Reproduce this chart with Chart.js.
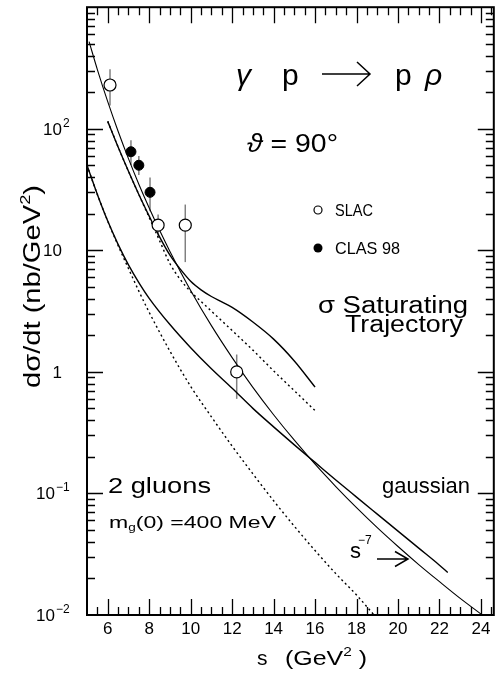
<!DOCTYPE html>
<html>
<head>
<meta charset="utf-8">
<script src="https://cdn.jsdelivr.net/npm/chart.js@4.4.1/dist/chart.umd.min.js"></script>
<style>
  html, body { margin: 0; padding: 0; background: #fff; }
  canvas { display: block; }
</style>
</head>
<body>
<canvas id="chart" width="501" height="676"></canvas>
<script>
// data
const slacS  = [6.11, 8.43, 9.74, 12.22];
const slacY  = [229, 16.1, 16.1, 1.0];
const slacLo = [155, 12.8, 8.0, 0.60];
const slacHi = [308, 19.7, 23.8, 1.39];

const clasS  = [7.12, 7.50, 8.04];
const clasY  = [64.7, 50.1, 30.0];
const clasLo = [50.3, 41.7, 21.0];
const clasHi = [80.5, 59.6, 39.7];

// steep s^-7 like curve
const powS = [5.1, 5.5, 6, 6.5, 7, 7.5, 8, 8.5, 9, 10, 11, 12, 13, 14, 15, 16, 17, 18, 19, 20, 21, 22, 23, 24, 24.4];
const powY = [521, 307, 167, 95.5, 56.8, 35.0, 22.3, 14.6, 9.8, 4.68, 2.40, 1.31, 0.746, 0.444, 0.274, 0.174, 0.114, 0.0764, 0.0523, 0.0366, 0.0260, 0.0188, 0.0137, 0.0102, 0.0091];

// saturating trajectory, solid and dotted
const satS = [6, 6.5, 7, 7.5, 8, 8.5, 9, 9.5, 10, 10.5, 11, 11.5, 12, 13, 14, 15, 16];
const satY = [115, 70.8, 44.7, 28.8, 19.1, 12.9, 9.12, 7.0, 5.56, 4.73, 4.17, 3.76, 3.39, 2.57, 1.86, 1.23, 0.75];
const satDotS = [6, 6.5, 7, 7.5, 8, 8.5, 9, 9.5, 10, 10.5, 11, 12, 13, 14, 15, 16];
const satDotY = [115, 70.8, 44.7, 28.8, 18.6, 12.0, 7.76, 5.75, 4.57, 3.80, 3.16, 2.19, 1.51, 1.02, 0.70, 0.48];

// 2 gluons, solid and dotted
const gluS = [5, 5.5, 6, 6.5, 7, 7.5, 8, 9, 10, 11, 12, 13, 14, 15, 16, 17, 18, 19, 20, 21, 22, 22.4];
const gluY = [50.1, 28.8, 17.4, 11.2, 7.59, 5.43, 4.03, 2.45, 1.58, 1.06, 0.733, 0.501, 0.353, 0.251, 0.180, 0.129, 0.0933, 0.0676, 0.0490, 0.0355, 0.0257, 0.0224];
const gluDotS = [5, 5.5, 6, 6.5, 7, 7.5, 8, 9, 10, 11, 12, 13, 14, 15, 16, 17, 18, 18.8, 19];
const gluDotY = [50.1, 28.8, 17.4, 10.96, 7.08, 4.62, 3.09, 1.48, 0.759, 0.427, 0.245, 0.145, 0.0871, 0.0537, 0.0339, 0.0219, 0.0146, 0.0102, 0.0093];

// axis labels
const xTicks = [6, 8, 10, 12, 14, 16, 18, 20, 22, 24];
const yTicks = [0.01, 0.1, 1, 10, 100];
const yBase  = ['10', '10', '1', '10', '10'];
const yExp   = ['\u22122', '\u22121', '', '', '2'];

const FAM = '"Liberation Sans", "DejaVu Sans", Arial, sans-serif';
const pts = (xs, ys) => xs.map((x, i) => ({ x: x, y: ys[i] }));

const curve = (xs, ys, w, dash) => ({
    data: pts(xs, ys),
    showLine: true,
    borderColor: '#000',
    borderWidth: w,
    borderDash: dash || [],
    pointRadius: 0,
    cubicInterpolationMode: 'monotone',
    clip: 0,
    order: 1
});

// draw a run of text pieces [text, size, dy, style], optionally squeezed to width
function rich(ctx, parts, x, y, width) {
    let total = 0;
    const ws = parts.map(p => {
        ctx.font = (p[3] || '') + ' ' + p[1] + 'px ' + FAM;
        const w = ctx.measureText(p[0]).width;
        total += w;
        return w;
    });
    const k = width ? width / total : 1;
    ctx.save();
    ctx.translate(x, y);
    ctx.scale(k, 1);
    ctx.textAlign = 'left';
    ctx.textBaseline = 'alphabetic';
    let cx = 0;
    parts.forEach((p, i) => {
        ctx.font = (p[3] || '') + ' ' + p[1] + 'px ' + FAM;
        ctx.fillText(p[0], cx, p[2] || 0);
        cx += ws[i];
    });
    ctx.restore();
}

function arrow(ctx, x1, x2, y, head, half) {
    ctx.beginPath();
    ctx.moveTo(x1, y); ctx.lineTo(x2, y);
    ctx.moveTo(x2 - head, y - half); ctx.lineTo(x2, y); ctx.lineTo(x2 - head, y + half);
    ctx.stroke();
}

const decor = {
    id: 'decor',
    beforeDatasetsDraw(chart) {
        const { ctx, scales: { x, y } } = chart;
        ctx.save();
        ctx.strokeStyle = '#808080';
        ctx.lineWidth = 1.5;
        const bars = (xs, lo, hi) => xs.forEach((s, i) => {
            const px = x.getPixelForValue(s);
            ctx.beginPath();
            ctx.moveTo(px, y.getPixelForValue(lo[i]));
            ctx.lineTo(px, y.getPixelForValue(hi[i]));
            ctx.stroke();
        });
        bars(slacS, slacLo, slacHi);
        bars(clasS, clasLo, clasHi);
        ctx.restore();
    },
    afterDraw(chart) {
        const { ctx, chartArea: a, scales: { x, y } } = chart;
        ctx.save();
        ctx.strokeStyle = '#000';
        ctx.fillStyle = '#000';

        // frame
        ctx.lineWidth = 2;
        ctx.strokeRect(a.left, a.top, a.right - a.left, a.bottom - a.top);

        // x ticks, inward on bottom and top
        ctx.lineWidth = 1.3;
        for (let v = 5.5; v < x.max; v += 0.5) {
            const px = Math.round(x.getPixelForValue(v)) + 0.5;
            const len = v % 2 === 0 ? 16 : 8;
            ctx.beginPath();
            ctx.moveTo(px, a.bottom); ctx.lineTo(px, a.bottom - len);
            ctx.moveTo(px, a.top); ctx.lineTo(px, a.top + len);
            ctx.stroke();
        }
        // y ticks, inward on left and right
        for (let d = -2; d <= 2; d++) {
            for (let m = 1; m <= 9; m++) {
                const v = m * Math.pow(10, d);
                if (d === -2 && m === 1) continue;
                const py = Math.round(y.getPixelForValue(v)) + 0.5;
                const len = m === 1 ? 16 : 8;
                ctx.beginPath();
                ctx.moveTo(a.left, py); ctx.lineTo(a.left + len, py);
                ctx.moveTo(a.right, py); ctx.lineTo(a.right - len, py);
                ctx.stroke();
            }
        }

        // x tick labels
        ctx.font = '17px ' + FAM;
        ctx.textAlign = 'center';
        ctx.textBaseline = 'alphabetic';
        xTicks.forEach(v => ctx.fillText(String(v), x.getPixelForValue(v), 634));

        // y tick labels with exponents
        yTicks.forEach((v, i) => {
            const py = y.getPixelForValue(v);
            const neg = yExp[i].charAt(0) === '\u2212';
            const right = neg ? 55 : 62;
            ctx.font = '17px ' + FAM;
            ctx.textAlign = 'right';
            ctx.fillText(yBase[i], right, py + 6);
            if (yExp[i]) {
                ctx.font = '12px ' + FAM;
                ctx.textAlign = 'left';
                ctx.fillText(yExp[i], right + 1, py - 2);
            }
        });

        // axis titles
        rich(ctx, [['s', 21]], 257, 665);
        rich(ctx, [['(GeV', 21], ['2', 13, -9], [' )', 21]], 285, 665, 82);
        ctx.save();
        ctx.translate(40, 388);
        ctx.rotate(-Math.PI / 2);
        rich(ctx, [['d\u03c3/dt (nb/GeV', 24], ['2', 15, -10], [')', 24]], 0, 0, 203);
        ctx.restore();

        // reaction
        ctx.lineWidth = 1.5;
        rich(ctx, [['\u03b3', 30, 0, 'italic']], 236, 85);
        rich(ctx, [['p', 30]], 282, 85);
        arrow(ctx, 322, 370, 74, 13, 12);
        rich(ctx, [['p', 30]], 395, 85);
        rich(ctx, [['\u03c1', 30, 0, 'italic']], 425, 85);
        rich(ctx, [['\u03d1', 26, 0, 'italic'], [' = 90\u00b0', 26]], 247, 152, 91);

        // legend
        ctx.lineWidth = 1.2;
        ctx.beginPath(); ctx.arc(318, 210, 4, 0, 2 * Math.PI); ctx.stroke();
        ctx.beginPath(); ctx.arc(318, 248, 4.5, 0, 2 * Math.PI); ctx.fill();
        rich(ctx, [['SLAC', 17]], 335, 216, 38);
        rich(ctx, [['CLAS 98', 17]], 335, 254, 65);

        // model labels
        rich(ctx, [['\u03c3 Saturating', 23]], 318, 313, 150);
        rich(ctx, [['Trajectory', 23]], 345, 332, 118);
        rich(ctx, [['gaussian', 22]], 382, 493, 88);
        rich(ctx, [['2 gluons', 22]], 108, 493, 103);
        rich(ctx, [['m', 17], ['g', 10, 3], ['(0) =400 MeV', 17]], 109, 528, 167);
        rich(ctx, [['s', 22]], 350, 558);
        rich(ctx, [['\u22127', 12]], 358, 544);
        ctx.lineWidth = 1.5;
        arrow(ctx, 377, 408, 559, 13, 7.5);

        ctx.restore();
    }
};

new Chart(document.getElementById('chart'), {
    type: 'scatter',
    data: {
        datasets: [
            {
                data: pts(slacS, slacY),
                pointRadius: 6,
                pointBackgroundColor: '#fff',
                pointBorderColor: '#000',
                pointBorderWidth: 1.2,
                order: 0
            },
            {
                data: pts(clasS, clasY),
                pointRadius: 5,
                pointBackgroundColor: '#000',
                pointBorderColor: '#000',
                pointBorderWidth: 1,
                order: 0
            },
            curve(powS, powY, 1.1),
            curve(satS, satY, 1.4),
            curve(satDotS, satDotY, 1.4, [2, 3]),
            curve(gluS, gluY, 1.4),
            curve(gluDotS, gluDotY, 1.4, [2, 3])
        ]
    },
    options: {
        responsive: false,
        animation: false,
        layout: { padding: { top: 1, right: 5, left: 0, bottom: 0 } },
        plugins: { legend: { display: false }, tooltip: { enabled: false } },
        scales: {
            x: {
                type: 'linear',
                min: 5,
                max: 24.62,
                ticks: { display: false },
                grid: { display: false },
                border: { display: false },
                afterFit: s => { s.height = 61; }
            },
            y: {
                type: 'logarithmic',
                min: 0.01,
                max: 1000,
                ticks: { display: false },
                grid: { display: false },
                border: { display: false },
                afterFit: s => { s.width = 87; }
            }
        }
    },
    plugins: [decor]
});
</script>
</body>
</html>
